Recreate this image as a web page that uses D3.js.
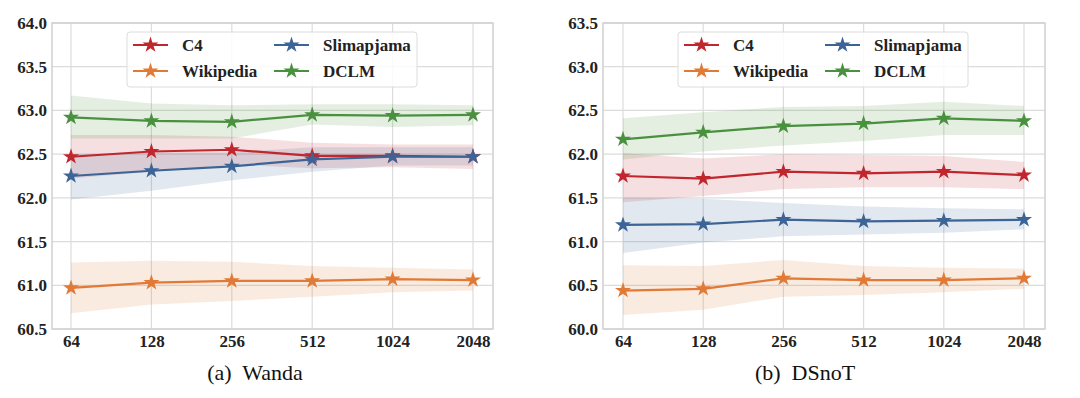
<html>
<head>
<script src="https://d3js.org/d3.v7.min.js"></script>
<style>
body { margin: 0; background: #fff; }
svg text { font-family: "Liberation Serif", "Times New Roman", Times, "Nimbus Roman", "DejaVu Serif", serif !important; }
</style>
</head>
<body>
<div id="canvas"></div>
<script>

var width = 1080, height = 398;

// data
var contexts = ["64", "128", "256", "512", "1024", "2048"];
var seriesNames = ["C4", "Wikipedia", "Slimapjama", "DCLM"];
var colors = ["#c0262d", "#e07a36", "#3d6496", "#4a913f"];

// (a) Wanda
var wandaC4 = [62.47, 62.53, 62.55, 62.48, 62.48, 62.47];
var wandaC4Lo = [62.22, 62.30, 62.38, 62.34, 62.35, 62.33];
var wandaC4Hi = [62.72, 62.72, 62.70, 62.63, 62.61, 62.61];
var wandaWiki = [60.97, 61.03, 61.05, 61.05, 61.07, 61.06];
var wandaWikiLo = [60.68, 60.78, 60.82, 60.87, 60.92, 60.94];
var wandaWikiHi = [61.26, 61.28, 61.27, 61.22, 61.20, 61.18];
var wandaSlim = [62.25, 62.31, 62.36, 62.44, 62.47, 62.47];
var wandaSlimLo = [61.98, 62.08, 62.20, 62.30, 62.37, 62.37];
var wandaSlimHi = [62.50, 62.52, 62.52, 62.58, 62.58, 62.58];
var wandaDclm = [62.92, 62.88, 62.87, 62.95, 62.94, 62.95];
var wandaDclmLo = [62.68, 62.68, 62.68, 62.84, 62.81, 62.83];
var wandaDclmHi = [63.17, 63.08, 63.06, 63.07, 63.07, 63.06];

// (b) DSnoT
var dsnotC4 = [61.75, 61.72, 61.80, 61.78, 61.80, 61.76];
var dsnotC4Lo = [61.45, 61.52, 61.60, 61.62, 61.62, 61.60];
var dsnotC4Hi = [62.01, 61.95, 62.00, 61.99, 61.98, 61.91];
var dsnotWiki = [60.44, 60.46, 60.58, 60.56, 60.56, 60.58];
var dsnotWikiLo = [60.16, 60.22, 60.37, 60.39, 60.42, 60.46];
var dsnotWikiHi = [60.73, 60.72, 60.79, 60.72, 60.70, 60.69];
var dsnotSlim = [61.19, 61.20, 61.25, 61.23, 61.24, 61.25];
var dsnotSlimLo = [60.87, 60.99, 61.06, 61.08, 61.10, 61.14];
var dsnotSlimHi = [61.50, 61.49, 61.44, 61.40, 61.38, 61.37];
var dsnotDclm = [62.17, 62.25, 62.32, 62.35, 62.41, 62.38];
var dsnotDclmLo = [61.94, 62.03, 62.10, 62.15, 62.22, 62.22];
var dsnotDclmHi = [62.41, 62.48, 62.54, 62.55, 62.60, 62.55];

var wandaTicks = [60.5, 61.0, 61.5, 62.0, 62.5, 63.0, 63.5, 64.0];
var dsnotTicks = [60.0, 60.5, 61.0, 61.5, 62.0, 62.5, 63.0, 63.5];

var svg = d3.select("#canvas").append("svg").attr("width", width).attr("height", height);

var drawPanel = function(opts) {
    var g = svg.append("g");
    var left = opts.left, right = opts.right, top = 23, bottom = 329;

    var x = d3.scalePoint().domain(contexts).range([opts.x0, opts.x1]);
    var y = d3.scaleLinear().domain(opts.domain).range([bottom, top]);

    // grid
    g.selectAll(".hgrid").data(opts.ticks).enter().append("line")
        .attr("x1", left).attr("x2", right)
        .attr("y1", function(d) { return y(d); }).attr("y2", function(d) { return y(d); })
        .attr("stroke", "#dcdcdc").attr("stroke-width", 1.2);
    g.selectAll(".vgrid").data(contexts).enter().append("line")
        .attr("x1", function(d) { return x(d); }).attr("x2", function(d) { return x(d); })
        .attr("y1", top).attr("y2", bottom)
        .attr("stroke", "#dcdcdc").attr("stroke-width", 1.2);

    var yAxis = g.append("g").attr("transform", "translate(" + left + ",0)")
        .call(d3.axisLeft(y).tickValues(opts.ticks).tickFormat(d3.format(".1f")).tickSize(0).tickPadding(5));
    var xAxis = g.append("g").attr("transform", "translate(0," + bottom + ")")
        .call(d3.axisBottom(x).tickSize(0).tickPadding(6));
    [yAxis, xAxis].forEach(function(a) {
        a.attr("font-family", null).attr("font-size", null);
        a.select(".domain").remove();
        a.selectAll("text").attr("font-weight", "bold").attr("font-size", 17).attr("fill", "#222");
    });

    // bands
    opts.series.forEach(function(s, i) {
        var area = d3.area()
            .x(function(d, j) { return x(contexts[j]); })
            .y0(function(d, j) { return y(s.lo[j]); })
            .y1(function(d, j) { return y(s.hi[j]); });
        g.append("path").datum(s.mean).attr("d", area)
            .attr("fill", colors[i]).attr("fill-opacity", 0.15);
    });

    // lines and stars
    var line = d3.line().x(function(d, j) { return x(contexts[j]); }).y(function(d) { return y(d); });
    var star = d3.symbol().type(d3.symbolStar).size(80);
    opts.series.forEach(function(s, i) {
        g.append("path").datum(s.mean).attr("d", line)
            .attr("fill", "none").attr("stroke", colors[i]).attr("stroke-width", 2.2);
        g.selectAll(".star" + i).data(s.mean).enter().append("path")
            .attr("d", star)
            .attr("transform", function(d, j) { return "translate(" + x(contexts[j]) + "," + y(d) + ")"; })
            .attr("fill", colors[i]);
    });

    // frame
    g.append("rect").attr("x", left).attr("y", top)
        .attr("width", right - left).attr("height", bottom - top)
        .attr("fill", "none").attr("stroke", "#d0d0d0").attr("stroke-width", 1.5);

    // legend
    var lg = g.append("g").attr("transform", "translate(" + opts.legendX + ",32)");
    lg.append("rect").attr("width", 290).attr("height", 55).attr("rx", 3)
        .attr("fill", "#fff").attr("fill-opacity", 0.85)
        .attr("stroke", "#dcdcdc").attr("stroke-width", 1);
    seriesNames.forEach(function(name, i) {
        var cx = i < 2 ? 6 : 147;
        var cy = i % 2 === 0 ? 13 : 39;
        var item = lg.append("g").attr("transform", "translate(" + cx + "," + cy + ")");
        item.append("line").attr("x1", 0).attr("x2", 35).attr("y1", 0).attr("y2", 0)
            .attr("stroke", colors[i]).attr("stroke-width", 2.2);
        item.append("path").attr("d", star).attr("transform", "translate(17.5,0)").attr("fill", colors[i]);
        item.append("text").attr("x", 49).attr("y", 6)
            .attr("font-weight", "bold").attr("font-size", 17).attr("fill", "#222").text(name);
    });

    // caption
    g.append("text").attr("x", opts.captionX).attr("y", 380)
        .attr("text-anchor", "middle").attr("font-size", 22).attr("fill", "#111")
        .style("white-space", "pre").text(opts.caption);
};

drawPanel({
    left: 52, right: 493, x0: 71, x1: 473,
    domain: [60.5, 64.0], ticks: wandaTicks,
    legendX: 127, captionX: 255, caption: "(a)  Wanda",
    series: [
        { mean: wandaC4, lo: wandaC4Lo, hi: wandaC4Hi },
        { mean: wandaWiki, lo: wandaWikiLo, hi: wandaWikiHi },
        { mean: wandaSlim, lo: wandaSlimLo, hi: wandaSlimHi },
        { mean: wandaDclm, lo: wandaDclmLo, hi: wandaDclmHi }
    ]
});

drawPanel({
    left: 603, right: 1045, x0: 623, x1: 1024,
    domain: [60.0, 63.5], ticks: dsnotTicks,
    legendX: 678, captionX: 805, caption: "(b)  DSnoT",
    series: [
        { mean: dsnotC4, lo: dsnotC4Lo, hi: dsnotC4Hi },
        { mean: dsnotWiki, lo: dsnotWikiLo, hi: dsnotWikiHi },
        { mean: dsnotSlim, lo: dsnotSlimLo, hi: dsnotSlimHi },
        { mean: dsnotDclm, lo: dsnotDclmLo, hi: dsnotDclmHi }
    ]
});

</script>
</body>
</html>
